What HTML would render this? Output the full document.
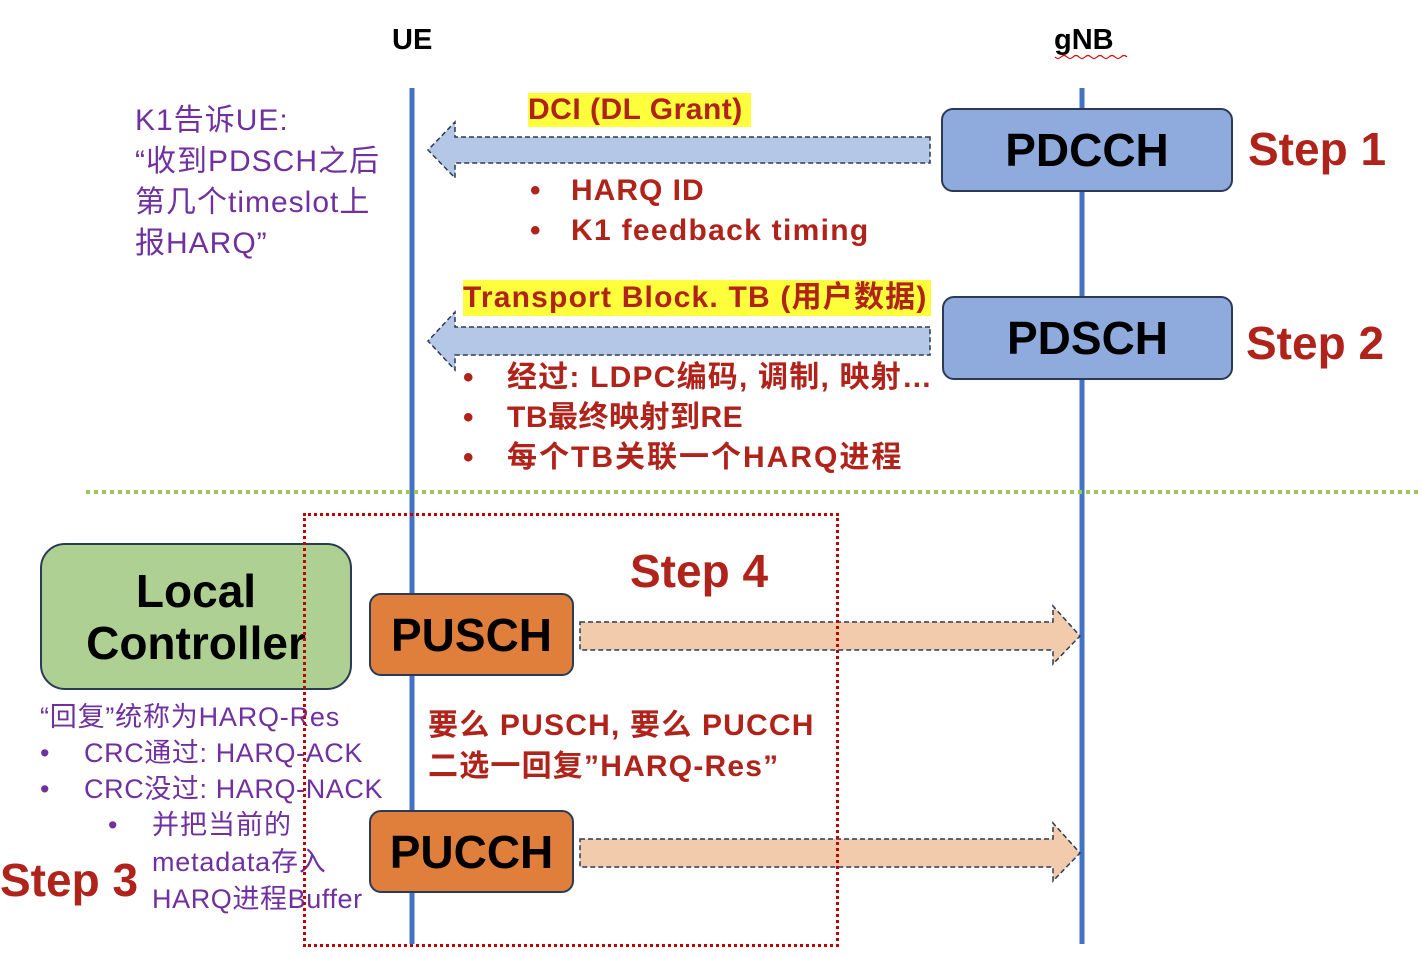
<!DOCTYPE html>
<html><head><meta charset="utf-8"><style>
html,body{margin:0;padding:0;background:#fff;}
#c{position:relative;width:1422px;height:958px;overflow:hidden;font-family:"Liberation Sans","Noto Sans CJK SC",sans-serif;}
.t{position:absolute;white-space:nowrap;line-height:1;}
.red{color:#B0231A;font-weight:bold;}
.pur{color:#7030A0;}
.step{color:#B0231A;font-weight:bold;font-size:46px;}
.box{position:absolute;box-sizing:border-box;border:2px solid #2B3A55;display:flex;align-items:center;justify-content:center;font-weight:bold;color:#000;}
</style></head><body><div id="c">
<svg width="1422" height="958" style="position:absolute;left:0;top:0">
<line x1="412" y1="88" x2="412" y2="944" stroke="#4472C4" stroke-width="5"/>
<line x1="1082" y1="88" x2="1082" y2="944" stroke="#4472C4" stroke-width="5"/>
<line x1="86" y1="492" x2="1420" y2="492" stroke="#9BC85A" stroke-width="4" stroke-dasharray="4,4"/>
<polygon points="930,137 455,137 455,122 428,150 455,178 455,163 930,163" fill="#B4C7E7" stroke="#2B3A55" stroke-width="1.5" stroke-dasharray="5,3"/>
<polygon points="930,327 455,327 455,312 428,341 455,370 455,355 930,355" fill="#B4C7E7" stroke="#2B3A55" stroke-width="1.5" stroke-dasharray="5,3"/>
<polygon points="580,622 1053,622 1053,606 1080,636 1053,664 1053,650 580,650" fill="#F2CBAD" stroke="#2B3A55" stroke-width="1.5" stroke-dasharray="5,3"/>
<polygon points="580,839 1053,839 1053,823 1080,853 1053,881 1053,867 580,867" fill="#F2CBAD" stroke="#2B3A55" stroke-width="1.5" stroke-dasharray="5,3"/>
<path d="M1055 57 q3 3 6 0 q3 -3 6 0 q3 3 6 0 q3 -3 6 0 q3 3 6 0 q3 -3 6 0 q3 3 6 0 q3 -3 6 0 q3 3 6 0 q3 -3 6 0 q3 3 6 0 q3 -3 6 0" stroke="#d00" fill="none" stroke-width="1.2"/>
</svg>
<div class="t" style="left:392px;top:26px;font-size:29px;font-weight:bold;">UE</div>
<div class="t" style="left:1054px;top:26px;font-size:29px;font-weight:bold;">gNB</div>
<div class="box" style="left:941px;top:108px;width:292px;height:84px;background:#8FAADC;border-radius:12px;font-size:46px;">PDCCH</div>
<div class="box" style="left:942px;top:296px;width:291px;height:84px;background:#8FAADC;border-radius:12px;font-size:46px;">PDSCH</div>
<div class="t step" style="left:1248px;top:126px;">Step 1</div>
<div class="t step" style="left:1246px;top:320px;">Step 2</div>
<div class="t red" style="left:528px;top:93px;height:34px;width:223px;background:#FFFF3C;font-size:30px;line-height:34px;letter-spacing:0.5px;">DCI (DL Grant)</div>
<div class="t red" style="left:530px;top:176px;font-size:30px;">•</div>
<div class="t red" style="left:571px;top:176px;font-size:30px;letter-spacing:1px;">HARQ ID</div>
<div class="t red" style="left:530px;top:216px;font-size:30px;">•</div>
<div class="t red" style="left:571px;top:216px;font-size:30px;letter-spacing:1.3px;">K1 feedback timing</div>
<div class="t red" style="left:463px;top:280px;height:36px;width:468px;background:#FFFF3C;font-size:30px;line-height:36px;letter-spacing:1.2px;">Transport Block. TB (用户数据)</div>
<div class="t red" style="left:463px;top:363px;font-size:30px;">•</div>
<div class="t red" style="left:507px;top:363px;font-size:30px;letter-spacing:1.2px;">经过: LDPC编码, 调制, 映射…</div>
<div class="t red" style="left:463px;top:403px;font-size:30px;">•</div>
<div class="t red" style="left:507px;top:403px;font-size:30px;letter-spacing:0.5px;">TB最终映射到RE</div>
<div class="t red" style="left:463px;top:443px;font-size:30px;">•</div>
<div class="t red" style="left:507px;top:443px;font-size:30px;letter-spacing:2px;">每个TB关联一个HARQ进程</div>
<div class="t pur" style="left:135px;top:100px;font-size:30px;line-height:41px;letter-spacing:1px;">K1告诉UE:<br>“收到PDSCH之后<br>第几个timeslot上<br>报HARQ”</div>
<div class="box" style="left:40px;top:543px;width:312px;height:147px;background:#AED093;border-radius:25px;font-size:46px;line-height:52px;text-align:center;">Local<br>Controller</div>
<div class="box" style="left:369px;top:593px;width:205px;height:83px;background:#E07E3C;border-radius:12px;font-size:46px;">PUSCH</div>
<div class="box" style="left:369px;top:810px;width:205px;height:83px;background:#E07E3C;border-radius:12px;font-size:46px;">PUCCH</div>
<div class="t step" style="left:630px;top:548px;">Step 4</div>
<div class="t step" style="left:0px;top:857px;">Step 3</div>
<div class="t red" style="left:428px;top:711px;font-size:30px;letter-spacing:1.2px;">要么 PUSCH, 要么 PUCCH</div>
<div class="t red" style="left:428px;top:752px;font-size:30px;letter-spacing:1.2px;">二选一回复”HARQ-Res”</div>
<div class="t pur" style="left:40px;top:704px;font-size:27px;letter-spacing:0.8px;">“回复”统称为HARQ-Res</div>
<div class="t pur" style="left:40px;top:740px;font-size:27px;">•</div>
<div class="t pur" style="left:84px;top:740px;font-size:27px;letter-spacing:0.6px;">CRC通过: HARQ-ACK</div>
<div class="t pur" style="left:40px;top:776px;font-size:27px;">•</div>
<div class="t pur" style="left:84px;top:776px;font-size:27px;letter-spacing:0.6px;">CRC没过: HARQ-NACK</div>
<div class="t pur" style="left:108px;top:812px;font-size:27px;">•</div>
<div class="t pur" style="left:152px;top:812px;font-size:27px;letter-spacing:1px;">并把当前的</div>
<div class="t pur" style="left:152px;top:849px;font-size:27px;letter-spacing:0.8px;">metadata存入</div>
<div class="t pur" style="left:152px;top:886px;font-size:27px;letter-spacing:0.6px;">HARQ进程Buffer</div>
<div style="position:absolute;left:303px;top:513px;width:530px;height:428px;border:3px dotted #C00000;"></div>
</div></body></html>
